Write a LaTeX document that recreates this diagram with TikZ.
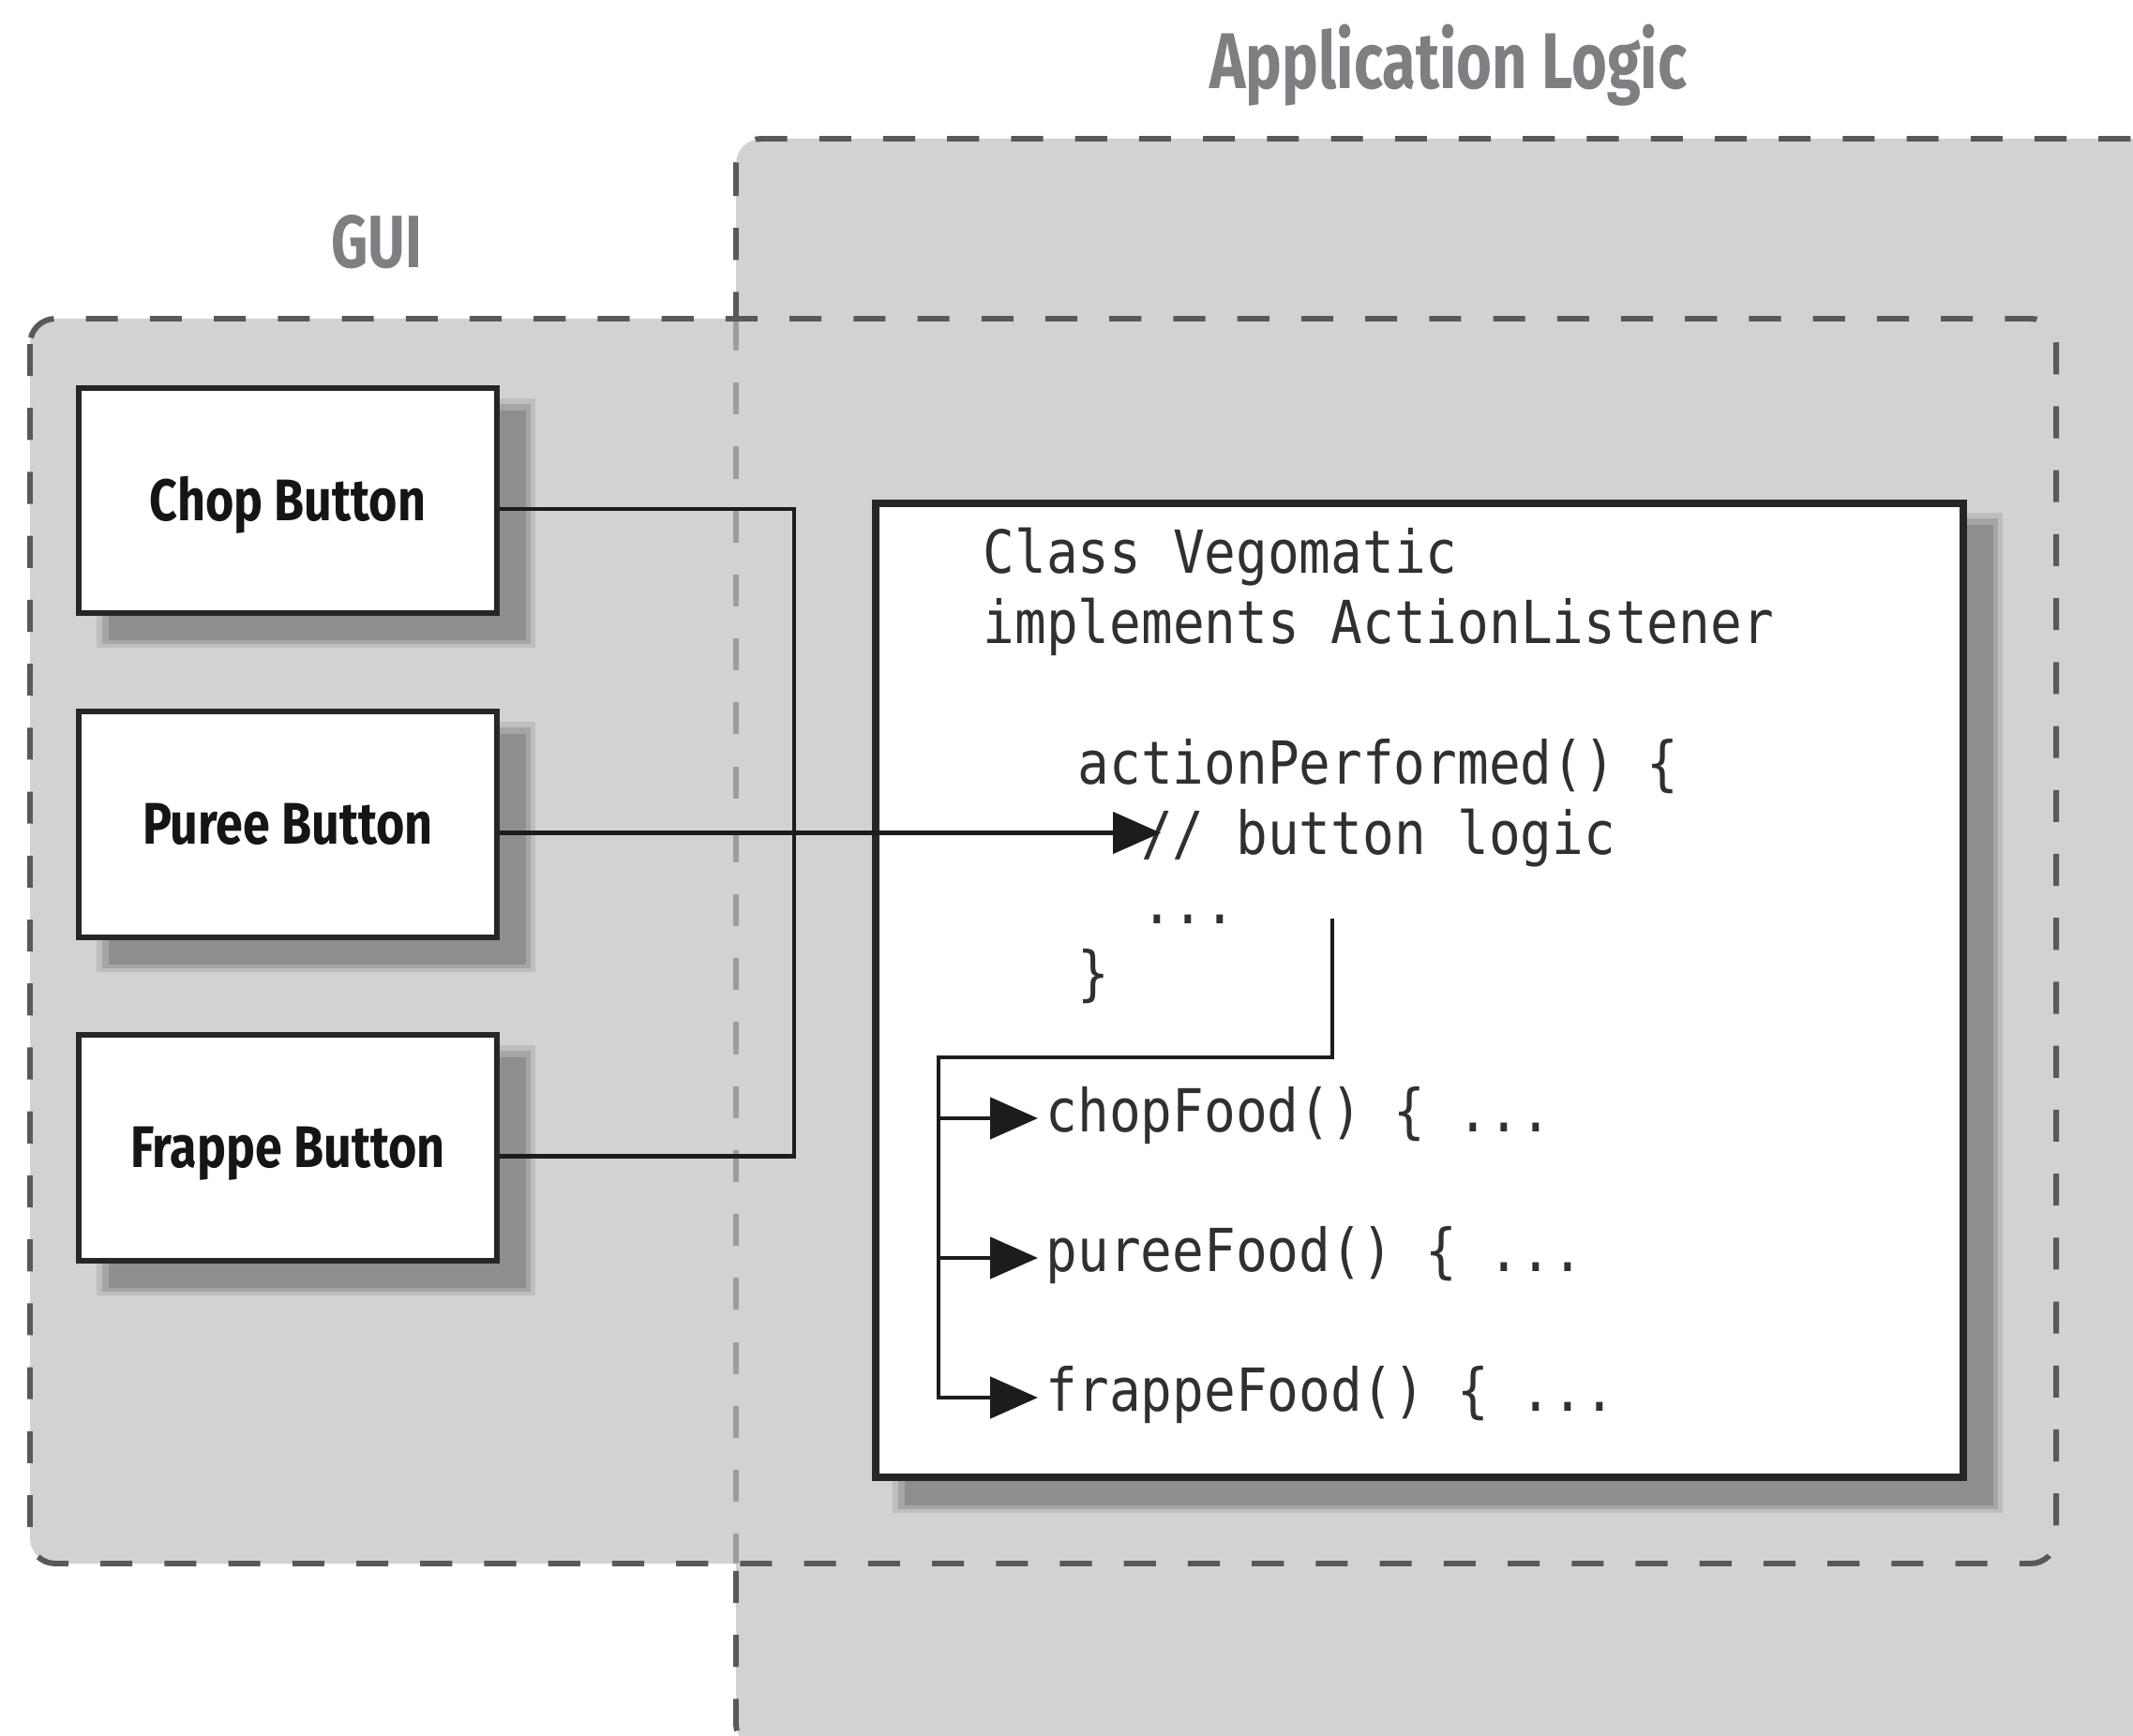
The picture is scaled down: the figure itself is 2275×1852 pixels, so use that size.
\documentclass[tikz,border=0pt]{standalone}
\usepackage{fontspec}
\usetikzlibrary{arrows.meta,calc}
\newfontfamily\titlefont[FakeStretch=0.77]{Fira Sans}
\newfontfamily\btnfont[FakeStretch=0.83]{Fira Sans}
\newfontfamily\codefont[FakeStretch=0.885]{DejaVu Sans Mono}
\definecolor{regionfill}{HTML}{D1D2D4}
\definecolor{regionline}{HTML}{58595B}
\definecolor{regionlight}{HTML}{9C9D9F}
\definecolor{titlegray}{HTML}{7E7F82}
\definecolor{btnline}{HTML}{262626}
\definecolor{btntext}{HTML}{151515}
\definecolor{codetext}{HTML}{303030}
\definecolor{connline}{HTML}{1C1C1C}
\definecolor{shadeA}{HTML}{BDBEC0}
\definecolor{shadeB}{HTML}{A4A5A7}
\definecolor{shadeC}{HTML}{8D8E90}
\pgfdeclarelayer{regions}
\pgfdeclarelayer{shade}
\pgfsetlayers{regions,shade,main}
\newcommand\dropshade[1]{%
  \fill[shadeA] ([xshift=0.22cm,yshift=-0.14cm]#1.north west) rectangle ([xshift=0.38cm,yshift=-0.34cm]#1.south east);
  \fill[shadeB] ([xshift=0.28cm,yshift=-0.20cm]#1.north west) rectangle ([xshift=0.33cm,yshift=-0.30cm]#1.south east);
  \fill[shadeC] ([xshift=0.35cm,yshift=-0.27cm]#1.north west) rectangle ([xshift=0.28cm,yshift=-0.26cm]#1.south east);}
\tikzset{
  regionborder/.style={draw=regionline, line width=1.7pt, dash pattern=on 9.7pt off 9.7pt, rounded corners=0.27cm},
  regionlightborder/.style={draw=regionlight, line width=1.7pt, dash pattern=on 9.7pt off 9.7pt},
  title/.style={font=\titlefont\bfseries\fontsize{24}{28}\selectfont, text=titlegray, inner sep=0pt, anchor=base},
  btn/.style={draw=btnline, line width=1.7pt, fill=white, minimum width=4.46cm, minimum height=2.40cm,
    inner sep=0pt, text height=12.2pt, text depth=0pt, font=\btnfont\bfseries\fontsize{17.8}{20}\selectfont, text=btntext},
  clsbox/.style={draw=btnline, line width=2.3pt, fill=white, minimum width=11.60cm, minimum height=10.39cm, inner sep=0pt},
  code/.style={font=\codefont\fontsize{18}{21}\selectfont, text=codetext, inner sep=0pt, anchor=base west},
  conn/.style={draw=connline, line width=1.4pt, miter limit=10},
  arr/.style={-{Triangle[length=14.5pt,width=12.5pt]}},
}
\begin{document}
\begin{tikzpicture}[x=0.01cm,y=-0.01cm]
\useasboundingbox (0,0) rectangle (2275,1852);
\clip (0,0) rectangle (2275,1852);

% nodes
\node[title] (apptitle) at (1545,95) {Application Logic};
\node[title, font=\titlefont\bfseries\fontsize{22.5}{26}\selectfont] (guititle) at (402,286) {GUI};

\node[btn] (chop) at (307,534) {Chop Button};
\node[btn] (puree) at (307,879.5) {Puree Button};
\node[btn] (frappe) at (307,1224.5) {Frappe Button};

\node[clsbox] (cls) at (1514,1056.5) {};

\node[code] (c1) at (1048,612) {Class Vegomatic};
\node[code] (c2) at (1048,686) {implements ActionListener};
\node[code] (ap) at (1149,837) {actionPerformed() \{};
\node[code] (bl) at (1216.5,911) {// button logic};
\node[code] (dots) at (1216.5,985) {...};
\node[code] (rb) at (1149,1060) {\}};
\node[code] (cf) at (1115,1207) {chopFood() \{ ...};
\node[code] (pf) at (1115,1356) {pureeFood() \{ ...};
\node[code] (ff) at (1115,1505) {frappeFood() \{ ...};

% regions
\begin{pgfonlayer}{regions}
  \fill[regionfill, rounded corners=0.27cm] (785,148) rectangle (2400,1866);
  \draw[regionborder] (785,148) rectangle (2400,1866);
  \fill[regionfill, rounded corners=0.27cm] (32,340) rectangle (2193,1668);
  \draw[regionlightborder] (785,340) -- (785,1668);
  \draw[regionborder] (32,340) rectangle (2193,1668);
\end{pgfonlayer}

% shadows
\begin{pgfonlayer}{shade}
  \dropshade{chop}
  \dropshade{puree}
  \dropshade{frappe}
  \dropshade{cls}
\end{pgfonlayer}

% connectors
\coordinate (bus) at (847,0);
\draw[conn] ([yshift=-0.09cm]chop.east) -| ([yshift=-0.09cm]frappe.east -| bus) -- ([yshift=-0.09cm]frappe.east);
\coordinate (tipP) at ([xshift=0.215cm]bl.base west);
\draw[conn,arr] ([yshift=-0.09cm]puree.east) -- ([yshift=-0.09cm]puree.east -| tipP);

\coordinate (src) at (1421,980);
\coordinate (bus2) at (1001,1128);
\coordinate (cftip) at ([xshift=-0.08cm,yshift=0.14cm]cf.base west);
\coordinate (pftip) at ([xshift=-0.08cm,yshift=0.14cm]pf.base west);
\coordinate (fftip) at ([xshift=-0.08cm,yshift=0.14cm]ff.base west);
\draw[conn,arr] (src) |- (bus2) |- (fftip);
\draw[conn,arr] (bus2 |- cftip) -- (cftip);
\draw[conn,arr] (bus2 |- pftip) -- (pftip);
\end{tikzpicture}
\end{document}
